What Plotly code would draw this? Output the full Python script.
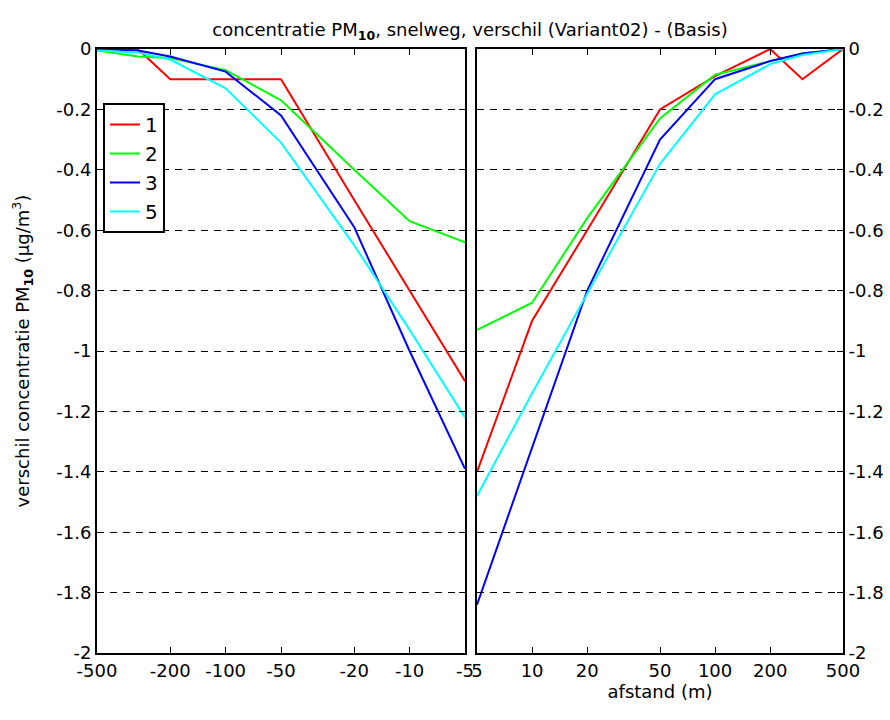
import math
import plotly.graph_objects as go

# ---- data ----
dist_left = [-500, -300, -200, -100, -50, -20, -10, -5]
dist_right = [5, 10, 20, 50, 100, 200, 300, 500]

series_names = ["1", "2", "3", "5"]
series_colors = ["#FF0000", "#00FF00", "#0000FF", "#00FFFF"]

left_1 = [0.0, 0.0, -0.10, -0.10, -0.10, -0.50, -0.80, -1.10]
left_2 = [-0.005, -0.025, -0.03, -0.07, -0.17, -0.40, -0.57, -0.64]
left_3 = [0.0, -0.005, -0.025, -0.075, -0.22, -0.59, -1.00, -1.39]
left_5 = [-0.005, -0.012, -0.035, -0.13, -0.31, -0.65, -0.93, -1.22]

right_1 = [-1.40, -0.90, -0.60, -0.20, -0.09, 0.0, -0.10, 0.0]
right_2 = [-0.93, -0.84, -0.56, -0.23, -0.085, -0.04, -0.015, 0.0]
right_3 = [-1.84, -1.32, -0.80, -0.30, -0.10, -0.04, -0.015, 0.0]
right_5 = [-1.48, -1.14, -0.81, -0.38, -0.15, -0.05, -0.02, 0.0]

xtick_left = [-500, -200, -100, -50, -20, -10, -5]
xtick_right = [5, 10, 20, 50, 100, 200, 500]
ytick_vals = [0, -0.2, -0.4, -0.6, -0.8, -1, -1.2, -1.4, -1.6, -1.8, -2]
ytick_text = ["0", "-0.2", "-0.4", "-0.6", "-0.8", "-1", "-1.2", "-1.4", "-1.6", "-1.8", "-2"]

title_text = "concentratie PM<sub><b>10</b></sub>, snelweg, verschil (Variant02) - (Basis)"
ylabel_text = "verschil concentratie PM<sub><b>10</b></sub> (μg/m<sup>3</sup>)"
xlabel_text = "afstand (m)"

FONT = "DejaVu Sans, Verdana, sans-serif"
FS = 18

left_series = [left_1, left_2, left_3, left_5]
right_series = [right_1, right_2, right_3, right_5]

fig = go.Figure()
for name, color, yl in zip(series_names, series_colors, left_series):
    fig.add_trace(go.Scatter(
        x=[abs(d) for d in dist_left], y=yl, mode="lines", name=name,
        line=dict(color=color, width=2), xaxis="x", yaxis="y",
        showlegend=True, legendgroup=name))
for name, color, yr in zip(series_names, series_colors, right_series):
    fig.add_trace(go.Scatter(
        x=dist_right, y=yr, mode="lines", name=name,
        line=dict(color=color, width=2), xaxis="x2", yaxis="y2",
        showlegend=False, legendgroup=name))

W, H = 890, 720
ml, mr, mt, mb = 97, 47, 49, 67
pw = W - ml - mr
ph = H - mt - mb
left_end = (465 - ml) / pw
right_start = (477 - ml) / pw

common_axis = dict(
    showline=True, linecolor="black", linewidth=2, mirror="ticks",
    ticks="inside", ticklen=6, tickwidth=1, tickcolor="black",
    tickfont=dict(family=FONT, size=FS, color="black"),
    zeroline=False,
)

fig.update_layout(
    width=W, height=H,
    margin=dict(l=ml, r=mr, t=mt, b=mb, autoexpand=False),
    paper_bgcolor="white", plot_bgcolor="white",
    font=dict(family=FONT, size=FS, color="black"),
    title=dict(text=title_text, x=0.5, xref="paper", xanchor="center",
               y=1 - 30 / H, yanchor="middle",
               font=dict(family=FONT, size=FS, color="black")),
    xaxis=dict(
        domain=[0, left_end], type="log",
        range=[math.log10(500), math.log10(5)],
        tickvals=[abs(v) for v in xtick_left], ticktext=[str(v) for v in xtick_left],
        showgrid=False, anchor="y", **common_axis),
    xaxis2=dict(
        domain=[right_start, 1], type="log",
        range=[math.log10(5), math.log10(500)],
        tickvals=xtick_right, ticktext=[str(v) for v in xtick_right],
        showgrid=False, anchor="y2",
        title=dict(text=xlabel_text, standoff=6, font=dict(family=FONT, size=FS)),
        **common_axis),
    yaxis=dict(
        range=[-2, 0], tickvals=ytick_vals, ticktext=ytick_text,
        showgrid=True, gridcolor="black", gridwidth=1, griddash="7px,6px",
        anchor="x",
        title=dict(text=ylabel_text, standoff=22, font=dict(family=FONT, size=FS)),
        **common_axis),
    yaxis2=dict(
        range=[-2, 0], tickvals=ytick_vals, ticktext=ytick_text,
        showgrid=True, gridcolor="black", gridwidth=1, griddash="7px,6px",
        anchor="x2", side="right",
        **common_axis),
    legend=dict(
        x=(103 - ml) / pw, y=1 - (103 - mt) / ph,
        xanchor="left", yanchor="top",
        bgcolor="white", bordercolor="black", borderwidth=2,
        font=dict(family=FONT, size=FS + 2, color="black"),
        traceorder="normal", entrywidth=75, entrywidthmode="pixels",
        tracegroupgap=0,
    ),
    showlegend=True,
)

fig.write_html("out.html", config={"displayModeBar": False},
               post_script="document.body.style.margin='0px';")
